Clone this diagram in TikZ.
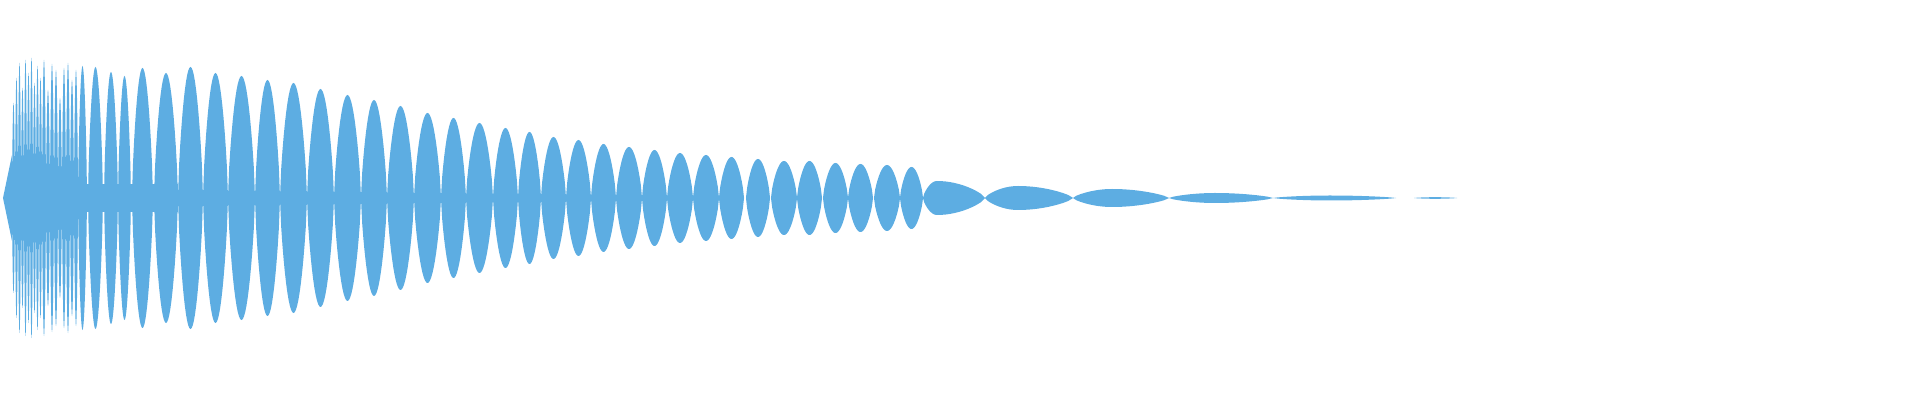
\documentclass[tikz,border=0pt]{standalone}
\definecolor{wavec}{RGB}{93,173,226}
\tikzset{wave/.style={fill=wavec,draw=none}}
\newcommand{\lobeshape}[4]{%
 \fill[wave] plot[domain=0:90,samples=12] ({#1+(#2-#1)*\x/90},{202+#4*pow(max(sin(\x),0.001),0.7)}) -- plot[domain=90:180,samples=12] ({#2+(#3-#2)*(\x-90)/90},{202+#4*pow(max(sin(\x),0.001),0.7)}) -- plot[domain=180:90,samples=12] ({#2+(#3-#2)*(\x-90)/90},{202-#4*pow(max(sin(\x),0.001),0.7)}) -- plot[domain=90:0,samples=12] ({#1+(#2-#1)*\x/90},{202-#4*pow(max(sin(\x),0.001),0.7)}) -- cycle;}
\begin{document}
\begin{tikzpicture}[x=0.01cm,y=0.01cm]
\useasboundingbox (0,0) rectangle (1920,400);
% start taper and central band
\fill[wave] (3,202) -- (12,245) -- (12,159) -- cycle;
\fill[wave] (11,188) rectangle (178,216);
\fill[wave] (12,202) -- (14,160) -- (78,175) -- (78,229) -- (14,244) -- cycle;
% dense lobes
\foreach \a/\b/\A in {12/15/95,15/18/120,18/21/135,21/24/110,24/27/138,27/30/125,30/33/140,33/36/115,36/39/132,39/42/120,42/46/138,46/50/108,50/54/134,54/58/128,58/62/100,62/66/130,66/70/135,70/74/118,74/78/128,78/87/132,88/103/131,104/118/126,118/131/122,132/153/130,154/178/125,178/203/131,203/228/125,228/255/122,255/280/118,280/307/115,
307/334/109,334/361/103,361/387/98,387/414/92,414/441/85,441/466/80,466/493/75,493/518/70,518/541/66,541/566/61,566/591/58,591/616/54,616/642/51,642/667/48,667/693/45,693/719/43,719/744/41,746/770/39,771/797/37,797/822/37,823/848/35,848/873/34,874/900/33,900/923/31}
{\pgfmathsetmacro\p{(\a+\b)/2}\lobeshape{\a}{\p}{\b}{\A}}
% broad lobes
\lobeshape{923}{937}{985}{17}
\lobeshape{985}{1018}{1073}{12}
\lobeshape{1073}{1112}{1169}{9}
\lobeshape{1169}{1215}{1273}{5}
\lobeshape{1273}{1330}{1396}{2.5}
\lobeshape{1414}{1435}{1457}{0.8}
\end{tikzpicture}
\end{document}
